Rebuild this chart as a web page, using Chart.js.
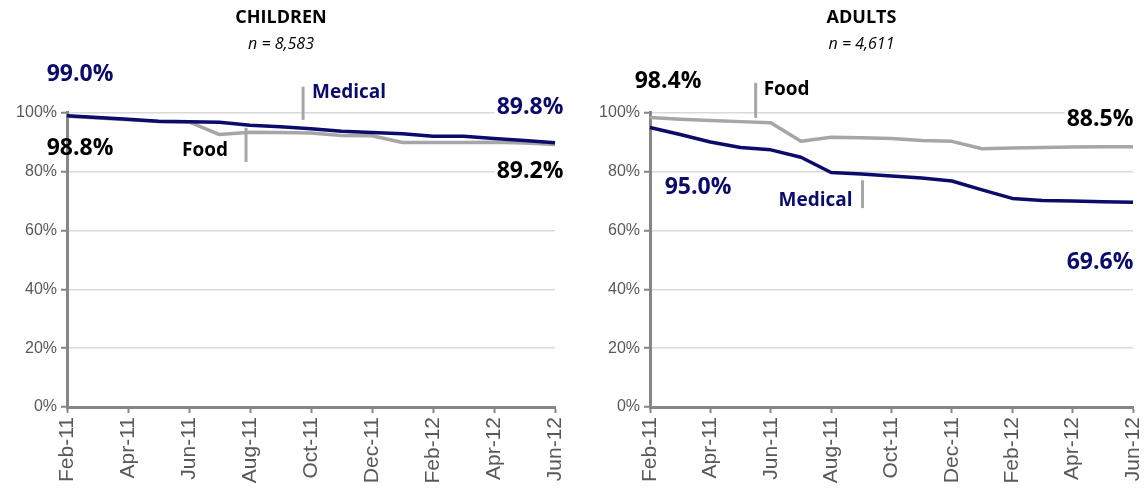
<!DOCTYPE html>
<html lang="en">
<head>
<meta charset="UTF-8">
<title>Children / Adults</title>
<script src="https://cdn.jsdelivr.net/npm/chart.js"></script>
<style>
    html, body { margin: 0; padding: 0; background: #fff; }
    .wrap { display: flex; width: 1147px; height: 490px; }
    .box { position: relative; height: 490px; }
    #leftBox { width: 574px; }
    #rightBox { width: 573px; }
</style>
</head>
<body>
<div class="wrap">
    <div class="box" id="leftBox"><canvas id="children"></canvas></div>
    <div class="box" id="rightBox"><canvas id="adults"></canvas></div>
</div>
<script>
const months = ['Feb-11','Mar-11','Apr-11','May-11','Jun-11','Jul-11','Aug-11','Sep-11','Oct-11','Nov-11','Dec-11','Jan-12','Feb-12','Mar-12','Apr-12','May-12','Jun-12'];
const yTicks = [0, 20, 40, 60, 80, 100];

const childMedical = [99.0, 98.4, 97.8, 97.1, 97.0, 96.8, 95.8, 95.3, 94.6, 93.7, 93.3, 92.9, 92.0, 92.0, 91.3, 90.6, 89.8];
const childFood    = [98.8, 98.2, 97.6, 97.0, 96.9, 92.6, 93.4, 93.3, 93.1, 92.3, 92.2, 89.9, 89.9, 89.9, 90.0, 89.7, 89.2];
const adultMedical = [95.0, 92.6, 90.1, 88.2, 87.4, 84.9, 79.7, 79.2, 78.5, 77.8, 76.8, 73.8, 70.9, 70.2, 70.0, 69.8, 69.6];
const adultFood    = [98.4, 97.8, 97.4, 97.0, 96.6, 90.3, 91.7, 91.5, 91.3, 90.6, 90.3, 87.8, 88.0, 88.2, 88.4, 88.5, 88.5];

const NAVY = '#0b0b6b';
const GREY = '#a6a6a6';
const AXIS = '#868686';
const LABEL_FONT = 'bold 23px "Open Sans", "DejaVu Sans", sans-serif';
const NOTE_FONT = 'bold 19px "Open Sans", "DejaVu Sans", sans-serif';

// callouts + end value labels, placed from the scales
const notesPlugin = {
    id: 'notes',
    afterDatasetsDraw(chart, args, opts) {
        const ctx = chart.ctx;
        const x = chart.scales.x, y = chart.scales.y;
        ctx.save();
        (opts.callouts || []).forEach(c => {
            const px = x.getPixelForValue(c.at);
            ctx.strokeStyle = GREY;
            ctx.lineWidth = 3;
            ctx.beginPath();
            ctx.moveTo(px, y.getPixelForValue(c.from));
            ctx.lineTo(px, y.getPixelForValue(c.to));
            ctx.stroke();
            ctx.font = NOTE_FONT;
            ctx.fillStyle = c.color;
            ctx.textAlign = c.gap > 0 ? 'left' : 'right';
            ctx.textBaseline = 'middle';
            ctx.fillText(c.text, px + c.gap, y.getPixelForValue(c.textAt));
        });
        (opts.values || []).forEach(v => {
            const val = v.data[v.idx];
            const px = x.getPixelForValue(v.idx) + v.dx;
            const py = y.getPixelForValue(val) + v.dy;
            const txt = val.toFixed(1) + '%';
            ctx.font = LABEL_FONT;
            ctx.textAlign = 'center';
            ctx.textBaseline = 'middle';
            if (v.bg) {
                const w = ctx.measureText(txt).width;
                ctx.fillStyle = '#fff';
                ctx.fillRect(px - w / 2 - 2, py - 12, w + 4, 24);
            }
            ctx.fillStyle = v.color;
            ctx.fillText(txt, px, py);
        });
        ctx.restore();
    }
};

function makeChart(id, title, sub, medical, food, pad, notes) {
    new Chart(document.getElementById(id), {
        type: 'line',
        data: {
            labels: months,
            datasets: [
                { label: 'Medical', data: medical, borderColor: NAVY, borderWidth: 3.5, pointRadius: 0, tension: 0, borderJoinStyle: 'round' },
                { label: 'Food', data: food, borderColor: GREY, borderWidth: 3.5, pointRadius: 0, tension: 0, borderJoinStyle: 'round' }
            ]
        },
        options: {
            responsive: true,
            maintainAspectRatio: false,
            animation: false,
            layout: { padding: { left: pad.left, right: pad.right, top: 0, bottom: 0 } },
            plugins: {
                legend: { display: false },
                tooltip: { enabled: false },
                title: {
                    display: true, text: title, color: '#000',
                    font: { family: '"Open Sans"', size: 18, weight: 'bold', lineHeight: 1.2 },
                    padding: { top: 7, bottom: 3 }
                },
                subtitle: {
                    display: true, text: sub, color: '#000',
                    font: { family: '"Open Sans"', size: 16, style: 'italic', lineHeight: 1.2 },
                    padding: { top: 3, bottom: 59 }
                },
                notes: notes
            },
            scales: {
                x: {
                    offset: false,
                    afterFit: s => { s.height = 83; s.paddingLeft = 0; s.paddingRight = 0; },
                    border: { color: AXIS, width: 3 },
                    grid: {
                        drawOnChartArea: false,
                        tickLength: 6,
                        tickWidth: 2,
                        tickColor: c => (c.index % 2 ? 'rgba(0,0,0,0)' : AXIS)
                    },
                    ticks: {
                        autoSkip: false,
                        minRotation: 90,
                        maxRotation: 90,
                        padding: 4,
                        color: '#595959',
                        font: { family: '"Liberation Sans", Arial', size: 21 },
                        callback: (v, i) => (i % 2 ? '' : months[i])
                    }
                },
                y: {
                    min: 0, max: 100,
                    afterFit: s => { s.width = 60; },
                    afterBuildTicks: s => { s.ticks = yTicks.map(v => ({ value: v })); },
                    border: { color: AXIS, width: 3 },
                    grid: {
                        color: c => (c.tick && c.tick.value === 0 ? 'rgba(0,0,0,0)' : '#d9d9d9'),
                        lineWidth: 1.5,
                        tickLength: 6,
                        tickColor: AXIS,
                        tickWidth: 2
                    },
                    ticks: {
                        padding: 4,
                        color: '#595959',
                        font: { family: '"Liberation Sans", Arial', size: 16 },
                        callback: v => v + '%'
                    }
                }
            }
        },
        plugins: [notesPlugin]
    });
}

makeChart('children', 'CHILDREN', 'n = 8,583', childMedical, childFood, { left: 7, right: 19 }, {
    callouts: [
        { text: 'Medical', at: 7.74, from: 108.9, to: 97.6, textAt: 106.8, gap: 9, color: NAVY },
        { text: 'Food', at: 5.87, from: 94.9, to: 83.3, textAt: 87.0, gap: -18, color: '#000' }
    ],
    values: [
        { data: childMedical, idx: 0, dx: 13, dy: -41, color: NAVY },
        { data: childFood, idx: 0, dx: 13, dy: 32, color: '#000' },
        { data: childMedical, idx: 16, dx: -25, dy: -35, color: NAVY, bg: true },
        { data: childFood, idx: 16, dx: -25, dy: 27, color: '#000', bg: true }
    ]
});

makeChart('adults', 'ADULTS', 'n = 4,611', adultMedical, adultFood, { left: 16, right: 14 }, {
    callouts: [
        { text: 'Food', at: 3.5, from: 110.2, to: 98.3, textAt: 107.8, gap: 8, color: '#000' },
        { text: 'Medical', at: 7.04, from: 77.1, to: 67.6, textAt: 70.3, gap: -10, color: NAVY }
    ],
    values: [
        { data: adultFood, idx: 0, dx: 18, dy: -36, color: '#000' },
        { data: adultMedical, idx: 0, dx: 48, dy: 60, color: NAVY },
        { data: adultFood, idx: 16, dx: -33, dy: -27, color: '#000', bg: true },
        { data: adultMedical, idx: 16, dx: -33, dy: 60, color: NAVY }
    ]
});
</script>
</body>
</html>
